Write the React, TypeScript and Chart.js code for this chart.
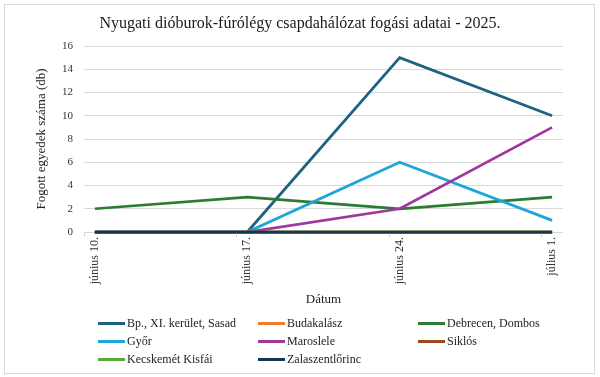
import React, { useEffect, useRef } from "react";
import { Chart, registerables } from "chart.js";

Chart.register(...registerables);

const dateLabels = ["június 10.", "június 17.", "június 24.", "július 1."];
const dayOffsets = [0, 7, 14, 21];

const seriesNames = [
  "Bp., XI. kerület, Sasad",
  "Budakalász",
  "Debrecen, Dombos",
  "Győr",
  "Maroslele",
  "Siklós",
  "Kecskemét Kisfái",
  "Zalaszentlőrinc",
];
const seriesColors = [
  "#1d6283",
  "#ed7d31",
  "#2b7b30",
  "#1ea6d8",
  "#a0379f",
  "#9c4a1a",
  "#5aa83f",
  "#12384f",
];
const bpSasad = [0, 0, 15, 10];
const budakalasz = [0, 0, 0, 0];
const debrecenDombos = [2, 3, 2, 3];
const gyor = [0, 0, 6, 1];
const maroslele = [0, 0, 2, 9];
const siklos = [0, 0, 0, 0];
const kecskemetKisfai = [0, 0, 0, 0];
const zalaszentlorinc = [0, 0, 0, 0];
const seriesValues = [bpSasad, budakalasz, debrecenDombos, gyor, maroslele, siklos, kecskemetKisfai, zalaszentlorinc];

const yTicks = [0, 2, 4, 6, 8, 10, 12, 14, 16];

const titleText = "Nyugati dióburok-fúrólégy csapdahálózat fogási adatai - 2025.";
const yTitle = "Fogott egyedek száma (db)";
const xTitle = "Dátum";

const SERIF = "'Liberation Serif', 'Times New Roman', serif";

const tickMarks = {
  id: "tickMarks",
  afterDraw(chart: any) {
    const x = chart.scales.x;
    const y = chart.scales.y;
    const ctx = chart.ctx;
    const base = y.getPixelForValue(0);
    ctx.save();
    ctx.strokeStyle = "#d0d0d0";
    ctx.lineWidth = 1;
    dayOffsets.forEach((d) => {
      const px = Math.round(x.getPixelForValue(d - 0.5)) + 0.5;
      ctx.beginPath();
      ctx.moveTo(px, base + 1.5);
      ctx.lineTo(px, base + 5);
      ctx.stroke();
    });
    ctx.restore();
  },
};

export default function App() {
  const ref = useRef<HTMLCanvasElement>(null);
  useEffect(() => {
    if (!ref.current) return;
    const chart = new Chart(ref.current, {
      type: "line",
      data: {
        datasets: seriesNames.map((name, i) => ({
          label: name,
          data: seriesValues[i].map((v, j) => ({ x: dayOffsets[j], y: v })),
          borderColor: seriesColors[i],
          backgroundColor: seriesColors[i],
          borderWidth: 2.75,
          pointRadius: 0,
          tension: 0,
          order: -i,
          clip: false,
        })),
      },
      options: {
        animation: false,
        responsive: false,
        layout: { padding: { left: 0, right: 0, top: 0, bottom: 65 } },
        plugins: {
          legend: { display: false },
          tooltip: { enabled: false },
          title: {
            display: true,
            text: titleText,
            color: "#1a1a1a",
            font: { family: SERIF, size: 16, weight: "normal" },
            padding: { top: 14, bottom: 12.8 },
          },
        },
        scales: {
          x: {
            type: "linear",
            min: -0.5,
            max: 21.5,
            afterBuildTicks: (s: any) => {
              s.ticks = dayOffsets.map((v) => ({ value: v }));
            },
            afterFit: (s: any) => {
              s.height = 80;
            },
            grid: { display: false, drawTicks: false },
            border: { display: false },
            ticks: {
              autoSkip: false,
              minRotation: 90,
              maxRotation: 90,
              padding: 5,
              color: "#333",
              font: { family: SERIF, size: 12 },
              callback: (v: any) => {
                const i = dayOffsets.indexOf(Number(v));
                return i >= 0 ? dateLabels[i] : "";
              },
            },
            title: {
              display: true,
              text: xTitle,
              color: "#222",
              font: { family: SERIF, size: 13 },
              padding: { top: 0, bottom: 5 },
            },
          },
          y: {
            min: 0,
            max: 16,
            afterBuildTicks: (s: any) => {
              s.ticks = yTicks.map((v) => ({ value: v }));
            },
            afterFit: (s: any) => {
              s.width = 84;
            },
            grid: { color: "#d9d9d9", drawTicks: false, lineWidth: 1 },
            border: { display: false },
            ticks: {
              padding: 11,
              color: "#333",
              font: { family: SERIF, size: 11 },
            },
            title: {
              display: true,
              text: yTitle,
              color: "#222",
              font: { family: SERIF, size: 13 },
              padding: { top: 34, bottom: 0 },
            },
          },
          rightSpace: {
            type: "linear",
            position: "right",
            display: true,
            afterFit: (s: any) => {
              s.width = 37;
            },
            grid: { display: false, drawTicks: false },
            border: { display: false },
            ticks: { display: false },
          },
        },
      },
      plugins: [tickMarks],
    } as any);
    return () => chart.destroy();
  }, []);

  return (
    <div style={{ position: "fixed", left: 0, top: 0, width: 600, height: 377, background: "#fff" }}>
      <div
        style={{
          position: "absolute",
          left: 4,
          top: 4,
          width: 591,
          height: 370,
          border: "1px solid #d9d9d9",
          boxSizing: "border-box",
        }}
      />
      <canvas ref={ref} width={600} height={377} style={{ position: "absolute", left: 0, top: 0 }} />
      <div
        style={{
          position: "absolute",
          left: 98,
          top: 314,
          display: "grid",
          gridTemplateColumns: "160px 160px 160px",
          gridAutoRows: "18px",
          fontFamily: SERIF,
          fontSize: 12,
          color: "#222",
        }}
      >
        {seriesNames.map((name, i) => (
          <div key={name} style={{ display: "flex", alignItems: "center", whiteSpace: "nowrap" }}>
            <span style={{ display: "inline-block", width: 27, height: 3, background: seriesColors[i], marginRight: 2 }} />
            <span>{name}</span>
          </div>
        ))}
      </div>
    </div>
  );
}
